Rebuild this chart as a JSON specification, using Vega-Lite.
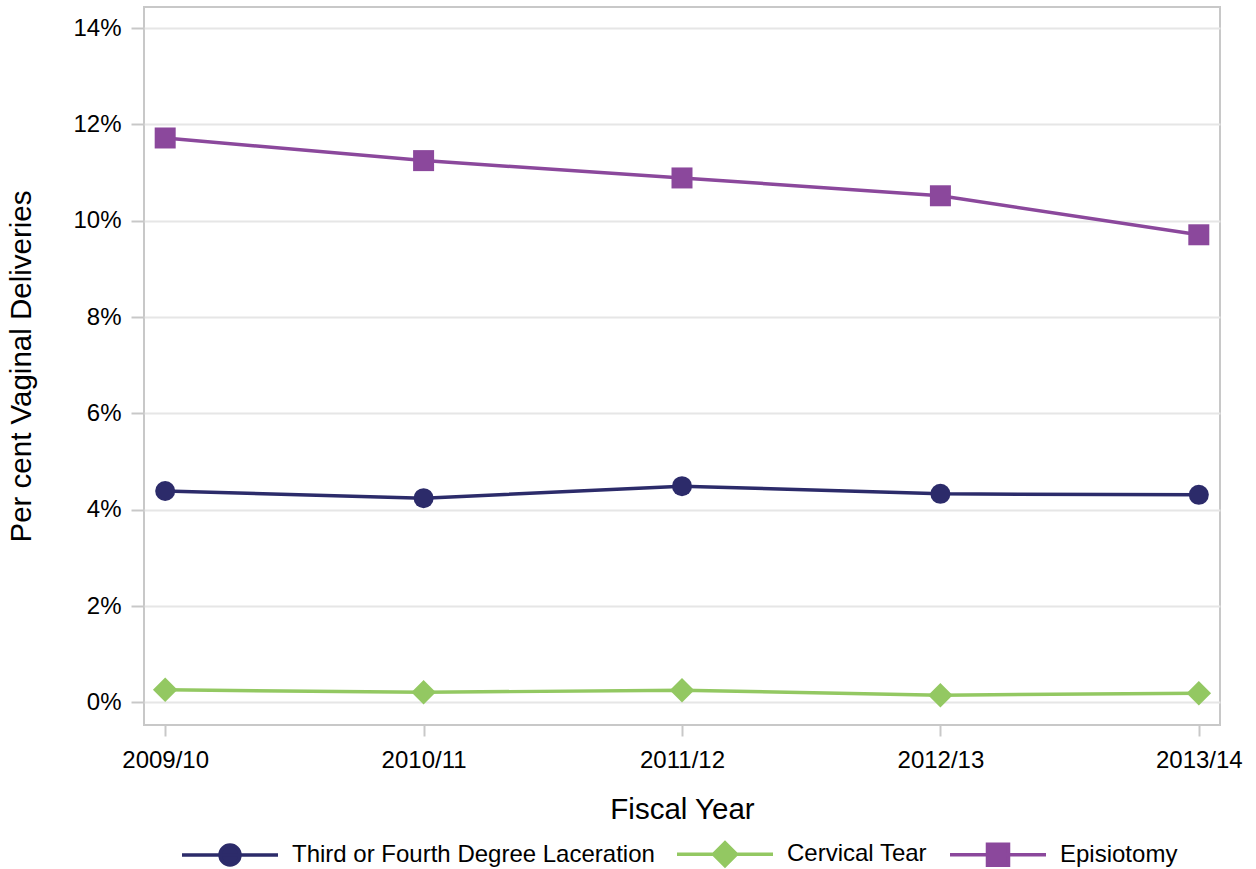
{
  "$schema": "https://vega.github.io/schema/vega-lite/v6.json",
  "autosize": {"type": "none"},
  "padding": {"left": 144, "top": 7, "right": 36, "bottom": 144},
  "width": 1076,
  "height": 718,
  "background": "white",
  "config": {
    "font": "Liberation Sans",
    "view": {"stroke": "#c8c8c8", "strokeWidth": 2},
    "axis": {"labelFont": "Liberation Sans", "titleFont": "Liberation Sans", "labelColor": "#000000", "titleColor": "#000000", "titleFontWeight": "normal"}
  },
  "data": {
    "values": [
      {"year": "2009/10", "series": "Third or Fourth Degree Laceration", "pct": 4.39},
      {"year": "2010/11", "series": "Third or Fourth Degree Laceration", "pct": 4.24},
      {"year": "2011/12", "series": "Third or Fourth Degree Laceration", "pct": 4.49},
      {"year": "2012/13", "series": "Third or Fourth Degree Laceration", "pct": 4.33},
      {"year": "2013/14", "series": "Third or Fourth Degree Laceration", "pct": 4.31},
      {"year": "2009/10", "series": "Cervical Tear", "pct": 0.26},
      {"year": "2010/11", "series": "Cervical Tear", "pct": 0.21},
      {"year": "2011/12", "series": "Cervical Tear", "pct": 0.25},
      {"year": "2012/13", "series": "Cervical Tear", "pct": 0.15},
      {"year": "2013/14", "series": "Cervical Tear", "pct": 0.19},
      {"year": "2009/10", "series": "Episiotomy", "pct": 11.72},
      {"year": "2010/11", "series": "Episiotomy", "pct": 11.25},
      {"year": "2011/12", "series": "Episiotomy", "pct": 10.89},
      {"year": "2012/13", "series": "Episiotomy", "pct": 10.52},
      {"year": "2013/14", "series": "Episiotomy", "pct": 9.71}
    ]
  },
  "encoding": {
    "x": {
      "field": "year", "type": "ordinal",
      "scale": {"type": "point", "padding": 0.082},
      "axis": {
        "title": "Fiscal Year", "titleFontSize": 29.5, "titleBaseline": "alphabetic", "titleY": 93,
        "labelAngle": 0, "labelFontSize": 24, "labelBaseline": "alphabetic", "labelPadding": 31,
        "domain": false, "ticks": true, "tickSize": 11, "tickColor": "#c8c8c8", "tickWidth": 2,
        "grid": false
      }
    },
    "y": {
      "field": "pct", "type": "quantitative",
      "scale": {"domain": [-0.47, 14.44], "nice": false, "zero": false},
      "axis": {
        "title": "Per cent Vaginal Deliveries", "titleFontSize": 29.5, "titleX": -108,
        "values": [0, 2, 4, 6, 8, 10, 12, 14], "labelExpr": "datum.value + '%'",
        "labelFontSize": 24, "labelPadding": 10,
        "domain": false, "tickSize": 13, "tickColor": "#c8c8c8", "tickWidth": 2,
        "grid": true, "gridColor": "#e6e6e6", "gridWidth": 2
      }
    },
    "color": {
      "field": "series", "type": "nominal",
      "scale": {
        "domain": ["Third or Fourth Degree Laceration", "Cervical Tear", "Episiotomy"],
        "range": ["#2c2b6a", "#93c862", "#8b489c"]
      },
      "legend": {
        "orient": "none", "direction": "horizontal", "legendX": 36, "legendY": 797,
        "title": null, "labelFontSize": 24, "labelFont": "Liberation Sans", "labelColor": "#000000", "labelLimit": 0,
        "symbolSize": 9216, "symbolStrokeWidth": 3.5, "labelOffset": 12, "columnPadding": 15,
        "encode": {
          "symbols": {
            "update": {
              "shape": {"signal": "datum.value === 'Cervical Tear' ? 'M-1,0H1M0,-0.24L0.24,0L0,0.24L-0.24,0Z' : datum.value === 'Episiotomy' ? 'M-1,0H1M-0.219,-0.219H0.219V0.219H-0.219Z' : 'M-1,0H1M0.208,0A0.208,0.208 0 1,1 -0.208,0A0.208,0.208 0 1,1 0.208,0Z'"},
              "strokeWidth": {"value": 3.5},
              "opacity": {"value": 1}
            }
          }
        }
      }
    }
  },
  "layer": [
    {
      "mark": {"type": "line", "strokeWidth": 3.5}
    },
    {
      "transform": [{"filter": "datum.series === 'Third or Fourth Degree Laceration'"}],
      "mark": {"type": "point", "filled": true, "opacity": 1, "shape": "circle", "size": 400}
    },
    {
      "transform": [{"filter": "datum.series === 'Cervical Tear'"}],
      "mark": {"type": "point", "filled": true, "opacity": 1, "shape": "diamond", "size": 600}
    },
    {
      "transform": [{"filter": "datum.series === 'Episiotomy'"}],
      "mark": {"type": "point", "filled": true, "opacity": 1, "shape": "square", "size": 441}
    }
  ]
}
